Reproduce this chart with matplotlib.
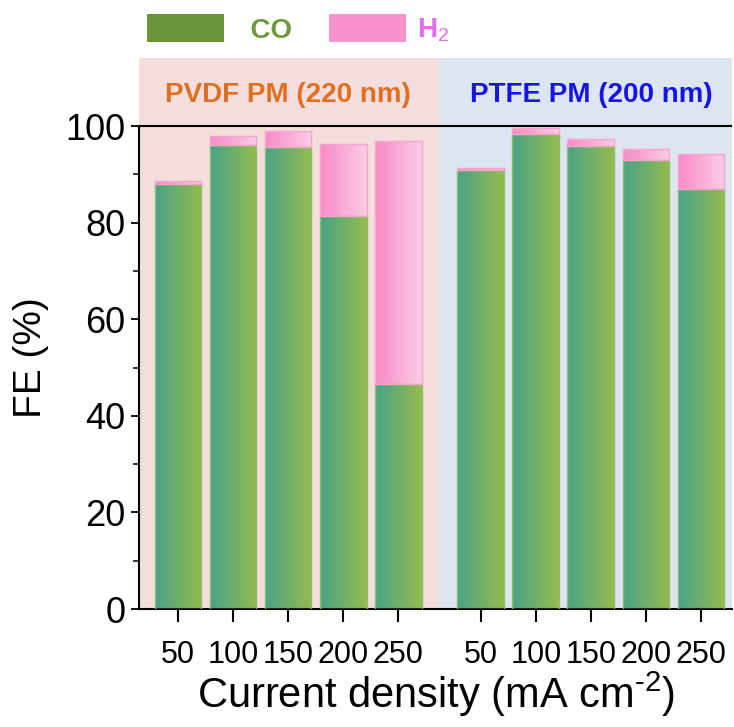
import numpy as np
import matplotlib
matplotlib.use("Agg")
import matplotlib.pyplot as plt
from matplotlib.colors import LinearSegmentedColormap
from matplotlib.patches import Patch
from matplotlib import font_manager

# ---------------- data ----------------
currents = ["50", "100", "150", "200", "250"]
groups = ["PVDF PM (220 nm)", "PTFE PM (200 nm)"]
pvdf_co = [88.0, 96.1, 95.7, 81.4, 46.6]
pvdf_total = [88.7, 97.9, 98.9, 96.2, 96.8]
ptfe_co = [91.0, 98.3, 95.8, 93.0, 86.9]
ptfe_total = [91.3, 99.6, 97.4, 95.3, 94.3]

pvdf_h2 = [t - c for t, c in zip(pvdf_total, pvdf_co)]
ptfe_h2 = [t - c for t, c in zip(ptfe_total, ptfe_co)]

# ---------------- fonts ----------------
names = {f.name for f in font_manager.fontManager.ttflist}
base = "Liberation Sans" if "Liberation Sans" in names else "DejaVu Sans"
plt.rcParams["font.family"] = [base, "DejaVu Sans"]
plt.rcParams["mathtext.fontset"] = "custom"
plt.rcParams["mathtext.rm"] = base
plt.rcParams["mathtext.it"] = base
plt.rcParams["mathtext.bf"] = base + ":bold"

fig = plt.figure(figsize=(7.34, 7.27), dpi=100)
ax = fig.add_axes([0.190, 0.1623, 0.807, 0.758])

n = len(currents)
gap = 1.5
x_pvdf = np.arange(n, dtype=float)
x_ptfe = np.arange(n, dtype=float) + (n - 1) + gap
width = 0.85

xmin, xmax = -0.70, x_ptfe[-1] + 0.56
split = (x_pvdf[-1] + x_ptfe[0]) / 2
ymax = 114.1

ax.axvspan(xmin, split, color="#f3dddd", zorder=0, lw=0)
ax.axvspan(split, xmax, color="#dde5f0", zorder=0, lw=0)

green_cmap = LinearSegmentedColormap.from_list("g", ["#4aa288", "#94bc4c"])
pink_cmap = LinearSegmentedColormap.from_list("p", ["#f98ac6", "#fbcde6"])
grad = np.linspace(0, 1, 256).reshape(1, -1)


def gradient_bars(xs, heights, bottoms, cmap, edge):
    bars = ax.bar(xs, heights, width, bottom=bottoms, color="none",
                  edgecolor=edge, linewidth=1.0, zorder=3)
    for b in bars:
        x0, y0 = b.get_x(), b.get_y()
        w, h = b.get_width(), b.get_height()
        if h <= 0:
            continue
        im = ax.imshow(grad, extent=[x0, x0 + w, y0, y0 + h], aspect="auto",
                       cmap=cmap, zorder=2, interpolation="bicubic")
        im.set_clip_path(b)
    return bars


gradient_bars(x_pvdf, pvdf_co, 0, green_cmap, "#8cc070")
gradient_bars(x_pvdf, pvdf_h2, pvdf_co, pink_cmap, "#f7a3cf")
gradient_bars(x_ptfe, ptfe_co, 0, green_cmap, "#8cc070")
gradient_bars(x_ptfe, ptfe_h2, ptfe_co, pink_cmap, "#f7a3cf")
ax.set_xlim(xmin, xmax)
ax.set_ylim(0, ymax)

ax.axhline(100, color="black", lw=1.5, zorder=4)

# group labels
ax.text((x_pvdf[0] + x_pvdf[-1]) / 2, 106.4, groups[0], color="#e07020",
        fontsize=20, fontweight="bold", ha="center", va="center", zorder=5)
ax.text((x_ptfe[0] + x_ptfe[-1]) / 2, 106.4, groups[1], color="#1414e6",
        fontsize=20, fontweight="bold", ha="center", va="center", zorder=5)

# spines
for s in ["top", "right"]:
    ax.spines[s].set_visible(False)
ax.spines["left"].set_bounds(0, 100)
ax.spines["left"].set_linewidth(1.5)
ax.spines["bottom"].set_linewidth(1.5)

ax.set_yticks([0, 20, 40, 60, 80, 100])
ax.set_yticks(np.arange(10, 100, 20), minor=True)
ax.tick_params(axis="y", which="major", direction="out", length=6, width=1.3,
               labelsize=26, pad=4)
ax.tick_params(axis="y", which="minor", direction="out", length=4, width=1.1)

xt = list(x_pvdf) + list(x_ptfe)
ax.set_xticks(xt)
ax.set_xticklabels(currents + currents)
ax.tick_params(axis="x", direction="out", length=9, width=1.5, labelsize=22,
               pad=13)

ax.set_ylabel("FE (%)", fontsize=28)
ax.yaxis.set_label_coords(-0.153, 52.0 / ymax)
ax.set_xlabel(r"Current density (mA cm$^{\text{-2}}$)", fontsize=30,
              labelpad=0)

# legend
handles = [Patch(facecolor="#6b953a", edgecolor="none"),
           Patch(facecolor="#f991cb", edgecolor="none")]
leg = fig.legend(handles, ["  CO", "H$_2$"], loc="upper left",
                 bbox_to_anchor=(0.182, 1.0), ncol=2, frameon=False,
                 prop={"size": 20, "weight": "bold"},
                 handlelength=2.75, handleheight=1.2, handletextpad=0.4,
                 columnspacing=1.35, borderaxespad=0.1,
                 labelcolor=["#6e9a3c", "#e36cf0"])

fig.savefig("out.png", dpi=100)
